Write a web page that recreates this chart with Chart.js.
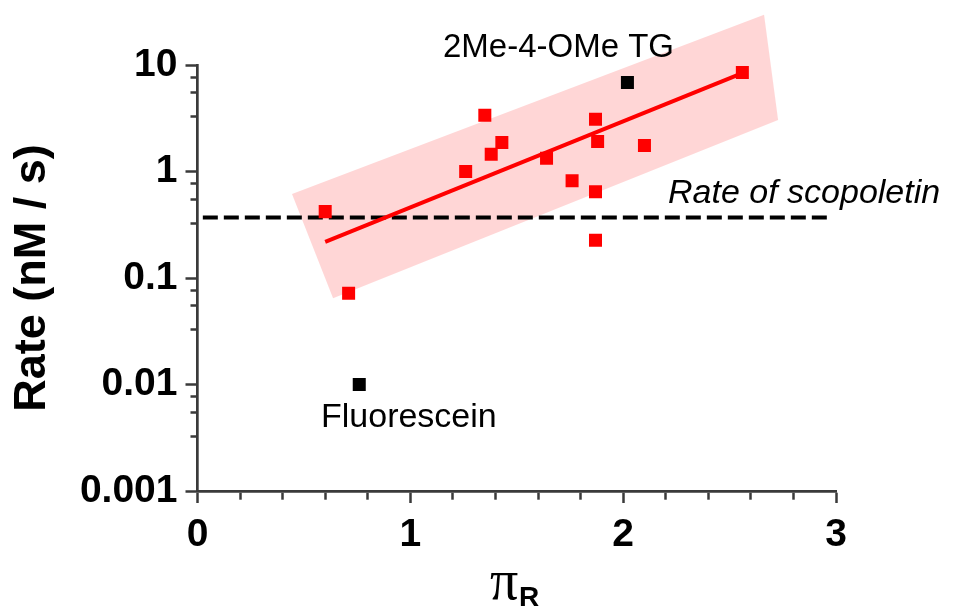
<!DOCTYPE html>
<html>
<head>
<meta charset="utf-8">
<script src="https://cdn.jsdelivr.net/npm/chart.js@4"></script>
<style>
  html, body { margin: 0; padding: 0; background: #fff; }
</style>
</head>
<body>
<canvas id="rate-chart" width="957" height="608"></canvas>
<script>
// red compounds: pi_R vs rate (nM / s)
const piR = [0.60, 0.71, 1.26, 1.35, 1.38, 1.43, 1.64, 1.76, 1.87, 1.88, 1.87, 1.87, 2.10, 2.56];
const rate = [0.42, 0.072, 1.0, 3.38, 1.45, 1.87, 1.33, 0.82, 3.10, 1.91, 0.645, 0.226, 1.75, 8.5];

// the two black outliers
const outlierPiR = [2.02, 0.76];
const outlierRate = [6.85, 0.01];

// fitted line end points
const fitPiR = [0.60, 2.56];
const fitRate = [0.218, 8.4];

// rate of scopoletin (dashed line)
const scopoletinRate = 0.37;
const scopoletinPiR = [0.025, 2.96];

// pink band corners
const bandPiR = [0.444, 2.662, 2.728, 0.637];
const bandRate = [0.614, 29.7, 3.05, 0.0645];

// axis ticks
const yMajor = [0.001, 0.01, 0.1, 1, 10];
const yMinorSteps = [3.25, 5.5, 7.65];
const xMajor = [0, 1, 2, 3];

const FONT = "'Liberation Sans', Arial, sans-serif";
const AXIS = '#3a3a3a';

function toPoints(xs, ys) {
  return xs.map((v, i) => ({ x: v, y: ys[i] }));
}

function isMajorY(v) {
  return yMajor.some(m => Math.abs(v - m) / m < 1e-6);
}
function isMajorX(v) {
  return xMajor.some(m => Math.abs(v - m) < 1e-6);
}

const bandPlugin = {
  id: 'band',
  beforeDatasetsDraw(chart) {
    const { ctx, scales: { x, y } } = chart;
    ctx.save();
    ctx.fillStyle = 'rgba(255, 0, 0, 0.16)';
    ctx.beginPath();
    bandPiR.forEach((v, i) => {
      const px = x.getPixelForValue(v);
      const py = y.getPixelForValue(bandRate[i]);
      if (i === 0) ctx.moveTo(px, py); else ctx.lineTo(px, py);
    });
    ctx.closePath();
    ctx.fill();
    ctx.restore();
  }
};

const labelPlugin = {
  id: 'labels',
  afterDraw(chart) {
    const ctx = chart.ctx;
    ctx.save();
    ctx.fillStyle = '#000';
    ctx.textBaseline = 'alphabetic';
    ctx.textAlign = 'left';
    ctx.font = '33px ' + FONT;
    ctx.fillText('2Me-4-OMe TG', 443, 57);
    ctx.font = '34px ' + FONT;
    ctx.fillText('Fluorescein', 321, 427);
    ctx.font = 'italic 34px ' + FONT;
    ctx.fillText('Rate of scopoletin', 668, 203);
    // x axis title: pi with subscript R
    ctx.font = "56px 'Liberation Serif', 'Times New Roman', serif";
    ctx.fillText('\u03c0', 490, 599);
    ctx.font = 'bold 28px ' + FONT;
    ctx.fillText('R', 519, 606);
    ctx.restore();
  }
};

const canvas = document.querySelector('#rate-chart');

new Chart(canvas.getContext('2d'), {
  type: 'scatter',
  data: {
    datasets: [
      {
        label: 'Rate of scopoletin',
        data: toPoints(scopoletinPiR, scopoletinPiR.map(() => scopoletinRate)),
        showLine: true,
        borderColor: '#000',
        borderWidth: 4,
        borderDash: [15, 6],
        pointRadius: 0,
        order: 4
      },
      {
        label: 'Fit',
        data: toPoints(fitPiR, fitRate),
        showLine: true,
        borderColor: '#ff0000',
        borderWidth: 4,
        pointRadius: 0,
        order: 3
      },
      {
        label: 'Compounds',
        data: toPoints(piR, rate),
        pointStyle: 'rect',
        pointRadius: 9.2,
        pointBorderWidth: 0,
        backgroundColor: '#ff0000',
        borderColor: '#ff0000',
        order: 2
      },
      {
        label: 'Outliers',
        data: toPoints(outlierPiR, outlierRate),
        pointStyle: 'rect',
        pointRadius: 9.2,
        pointBorderWidth: 0,
        backgroundColor: '#000',
        borderColor: '#000',
        order: 1
      }
    ]
  },
  options: {
    responsive: false,
    animation: false,
    layout: { padding: { left: 0, right: 121, top: 65, bottom: 0 } },
    plugins: {
      legend: { display: false },
      tooltip: { enabled: false }
    },
    scales: {
      x: {
        type: 'linear',
        min: 0,
        max: 3,
        afterFit(scale) { scale.height = 117; },
        border: { display: true, color: AXIS, width: 2.7 },
        grid: {
          drawOnChartArea: false,
          drawTicks: true,
          tickLength: 12,
          tickWidth: 2.5,
          tickColor: AXIS,
          tickBorderDash: c => (c.tick && isMajorX(c.tick.value)) ? [] : [7, 100]
        },
        ticks: {
          stepSize: 0.2,
          autoSkip: false,
          maxRotation: 0,
          padding: 9,
          color: '#000',
          font: { family: FONT, size: 39, weight: 'bold' },
          callback: v => isMajorX(v) ? String(Math.round(v)) : ''
        }
      },
      y: {
        type: 'logarithmic',
        min: 0.001,
        max: 10,
        afterFit(scale) { scale.width = 197.5; },
        afterBuildTicks(scale) {
          const vals = [];
          yMajor.forEach((m, i) => {
            vals.push(m);
            if (i < yMajor.length - 1) yMinorSteps.forEach(s => vals.push(m * s));
          });
          scale.ticks = vals.map(v => ({ value: v, major: isMajorY(v) }));
        },
        border: { display: true, color: AXIS, width: 2.7 },
        grid: {
          drawOnChartArea: false,
          drawTicks: true,
          tickLength: 12,
          tickWidth: 2.5,
          tickColor: AXIS,
          tickBorderDash: c => (c.tick && isMajorY(c.tick.value)) ? [] : [0, 5, 100]
        },
        ticks: {
          autoSkip: false,
          padding: 8,
          color: '#000',
          font: { family: FONT, size: 39, weight: 'bold' },
          callback: v => isMajorY(v) ? String(v) : ''
        },
        title: {
          display: true,
          text: 'Rate (nM / s)',
          color: '#000',
          padding: { top: 6, bottom: 0 },
          font: { family: FONT, size: 45, weight: 'bold' }
        }
      }
    }
  },
  plugins: [bandPlugin, labelPlugin]
});
</script>
</body>
</html>
